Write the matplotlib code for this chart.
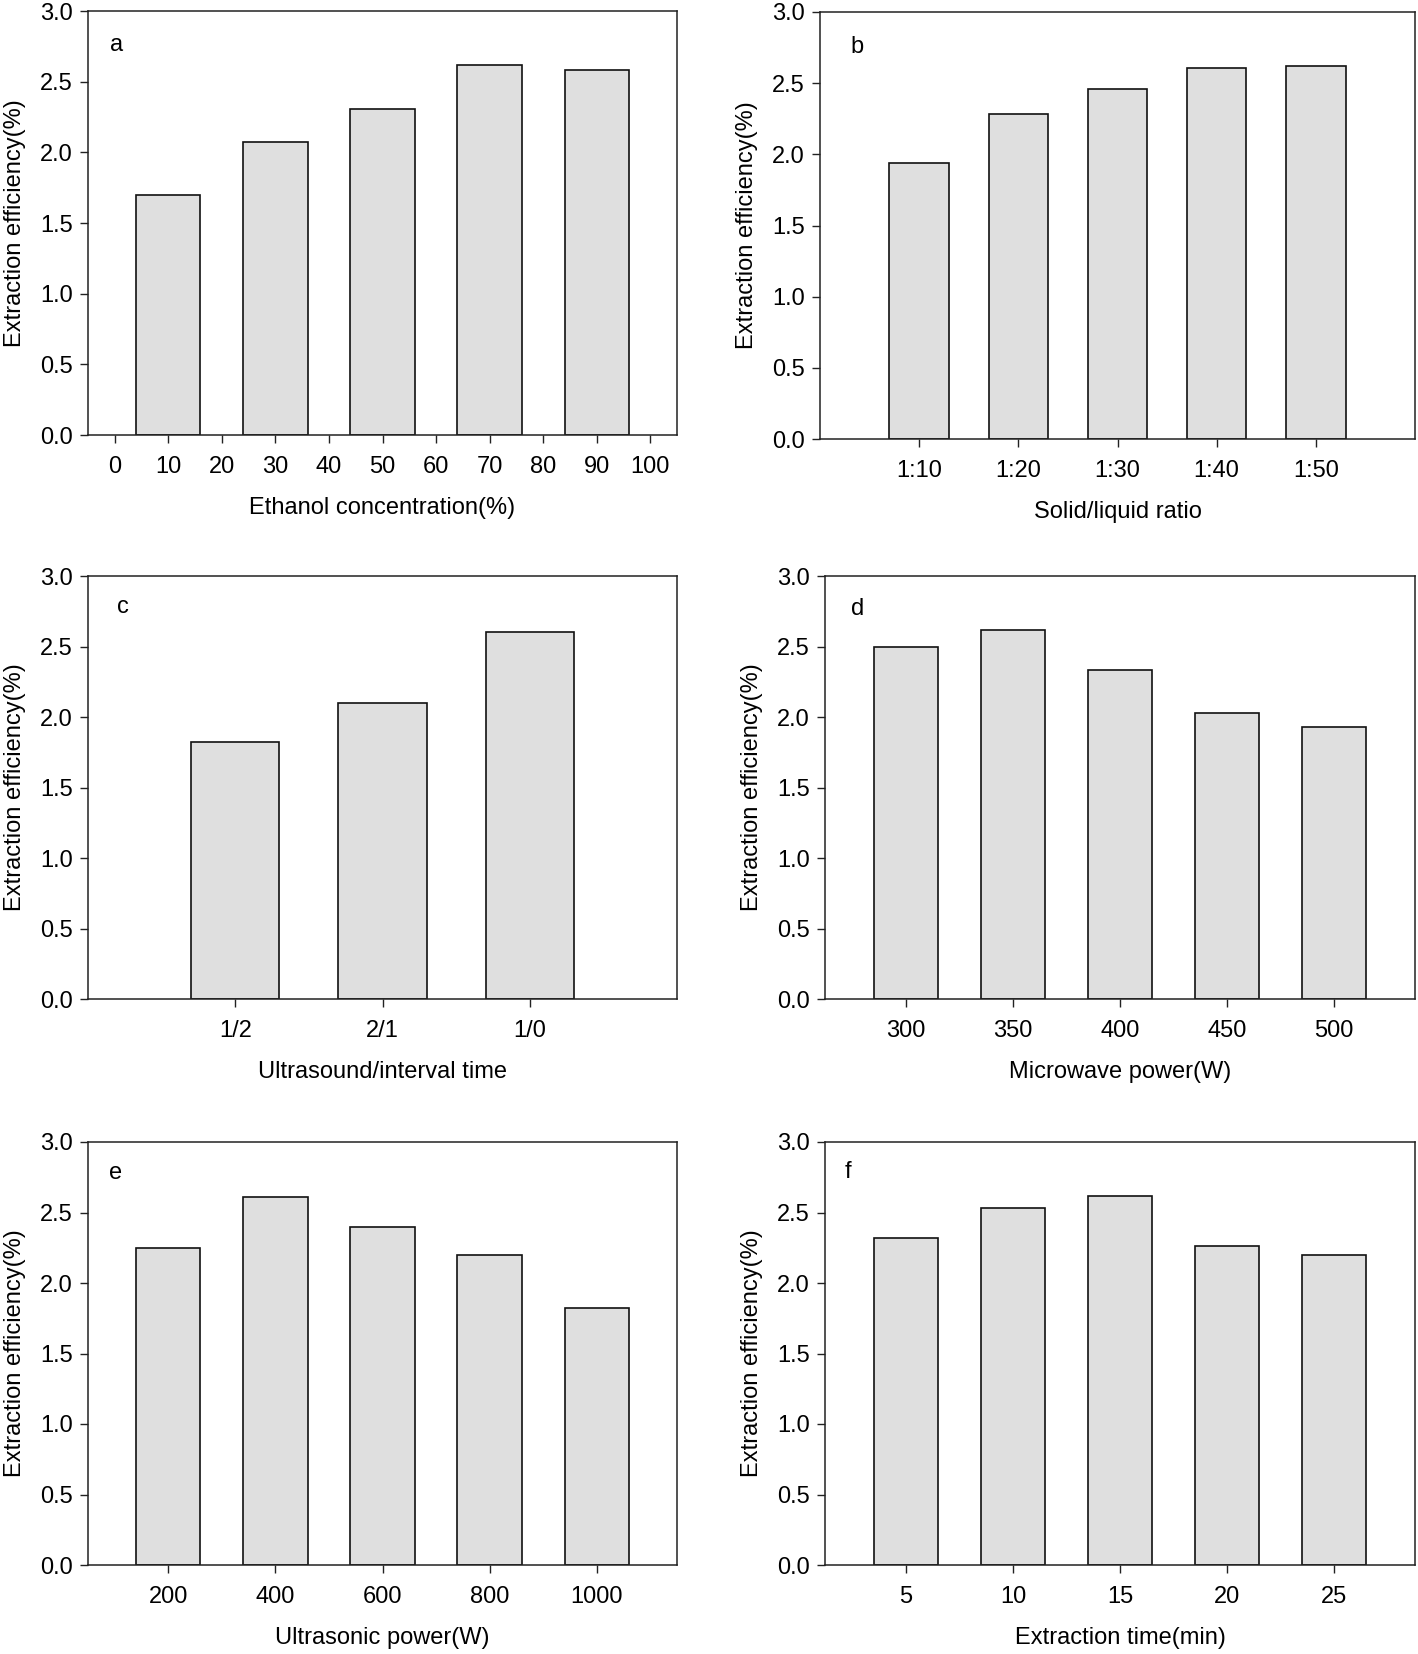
import matplotlib
matplotlib.use('Agg')
import matplotlib.pyplot as plt

plt.rcParams['font.family'] = ['Liberation Sans', 'DejaVu Sans']

# panel data
a_x = [10, 30, 50, 70, 90]
a_y = [1.70, 2.07, 2.31, 2.62, 2.58]

b_labels = ['1:10', '1:20', '1:30', '1:40', '1:50']
b_y = [1.94, 2.28, 2.46, 2.61, 2.62]

c_labels = ['1/2', '2/1', '1/0']
c_y = [1.82, 2.10, 2.60]

d_x = [300, 350, 400, 450, 500]
d_y = [2.50, 2.62, 2.33, 2.03, 1.93]

e_x = [200, 400, 600, 800, 1000]
e_y = [2.25, 2.61, 2.40, 2.20, 1.82]

f_x = [5, 10, 15, 20, 25]
f_y = [2.32, 2.53, 2.62, 2.26, 2.20]

y_ticks = [0.0, 0.5, 1.0, 1.5, 2.0, 2.5, 3.0]
ylabel = 'Extraction efficiency(%)'

W, H = 1418, 1654
fig = plt.figure(figsize=(W / 100, H / 100), dpi=100)


def make_ax(left, top, right, bottom):
    return fig.add_axes([left / W, 1 - bottom / H, (right - left) / W, (bottom - top) / H])


def style(ax, letter, lx, ly, xlabel):
    ax.set_ylim(0, 3.0)
    ax.set_yticks(y_ticks)
    ax.set_yticklabels(['%.1f' % v for v in y_ticks])
    ax.tick_params(direction='out', length=6, width=1, labelsize=17,
                   top=False, right=False, color='#222222')
    ax.tick_params(axis='x', pad=9)
    ax.tick_params(axis='y', pad=5)
    for s in ax.spines.values():
        s.set_linewidth(1.1)
        s.set_color('#222222')
    ax.set_ylabel(ylabel, fontsize=17, labelpad=10)
    ax.set_xlabel(xlabel, fontsize=17, labelpad=14)
    ax.text(lx, ly, letter, transform=ax.transAxes, fontsize=17,
            ha='center', va='center')


bar_kw = dict(color='#dfdfdf', edgecolor='#111111', linewidth=1.2, zorder=2)

# a
ax = make_ax(88, 11, 677, 435)
ax.bar(a_x, a_y, width=12, **bar_kw)
ax.set_xlim(-5, 105)
ax.set_xticks(range(0, 101, 10))
style(ax, 'a', 0.049, 0.92, 'Ethanol concentration(%)')

# b
ax = make_ax(820, 12, 1415, 439)
pos = list(range(1, len(b_labels) + 1))
ax.bar(pos, b_y, width=0.6, **bar_kw)
ax.set_xlim(0, 6)
ax.set_xticks(pos)
ax.set_xticklabels(b_labels)
style(ax, 'b', 0.062, 0.918, 'Solid/liquid ratio')

# c
ax = make_ax(88, 576, 677, 999)
pos = list(range(1, len(c_labels) + 1))
ax.bar(pos, c_y, width=0.6, **bar_kw)
ax.set_xlim(0, 4)
ax.set_xticks(pos)
ax.set_xticklabels(c_labels)
style(ax, 'c', 0.059, 0.927, 'Ultrasound/interval time')

# d
ax = make_ax(825, 576, 1415, 999)
ax.bar(d_x, d_y, width=30, **bar_kw)
ax.set_xlim(262, 538)
ax.set_xticks(d_x)
style(ax, 'd', 0.056, 0.922, 'Microwave power(W)')

# e
ax = make_ax(88, 1142, 677, 1565)
ax.bar(e_x, e_y, width=120, **bar_kw)
ax.set_xlim(50, 1150)
ax.set_xticks(e_x)
style(ax, 'e', 0.046, 0.927, 'Ultrasonic power(W)')

# f
ax = make_ax(825, 1142, 1415, 1565)
ax.bar(f_x, f_y, width=3, **bar_kw)
ax.set_xlim(1.22, 28.78)
ax.set_xticks(f_x)
style(ax, 'f', 0.039, 0.929, 'Extraction time(min)')

fig.savefig('out.png', dpi=100)
